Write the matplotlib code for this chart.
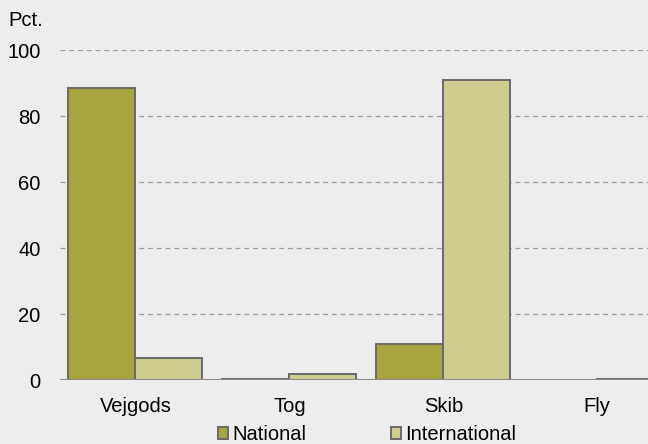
import matplotlib
matplotlib.use("Agg")
import matplotlib.pyplot as plt
import numpy as np

categories = ["Vejgods", "Tog", "Skib", "Fly"]
national = [88.5, 0.4, 10.9, 0.0]
international = [6.6, 1.7, 91.0, 0.3]
series_names = ["National", "International"]
yticks = [0, 20, 40, 60, 80, 100]

plt.rcParams['font.family'] = ['Liberation Sans', 'DejaVu Sans']
bg = "#ededed"
fs = 14.5
fig = plt.figure(figsize=(6.48, 4.44), dpi=100, facecolor=bg)
ax = fig.add_axes([60/648, 64/444, 1 - 60/648, (380-50)/444])
ax.set_facecolor(bg)

x = np.arange(len(categories))
w = 0.435
edge = "#6a6a6a"
ax.bar(x - w/2, national, width=w, color="#a8a43f", edgecolor=edge, linewidth=1.4, label=series_names[0], zorder=3)
ax.bar(x + w/2, international, width=w, color="#cfcc8f", edgecolor=edge, linewidth=1.4, label=series_names[1], zorder=3)

ax.set_xlim(-0.49, 3.33)
ax.set_ylim(0, 100)
ax.set_yticks(yticks)
ax.set_xticks(x)
ax.set_xticklabels(categories)
for yv in yticks[1:]:
    ax.axhline(yv, color="#9a9a9a", linestyle=(0, (4, 3)), linewidth=0.9, zorder=1)
ax.axhline(0, color="#8a8a8a", linewidth=1.5, zorder=4)
for s in ax.spines.values():
    s.set_visible(False)
ax.tick_params(axis='both', length=0, labelsize=fs, colors="#000000")
ax.tick_params(axis='y', pad=14)
ax.tick_params(axis='x', pad=12)

fig.text(8/648, 1 - 20/444, "Pct.", fontsize=fs, va="center", ha="left")

leg = fig.legend(loc="center", bbox_to_anchor=(367/648, 1 - 434.5/444), ncol=2, frameon=False,
                 fontsize=fs, handlelength=0.5, handleheight=0.5, handletextpad=0.2,
                 columnspacing=4.2, borderaxespad=0, borderpad=0)
fig.savefig("out.png", dpi=100, facecolor=bg)
